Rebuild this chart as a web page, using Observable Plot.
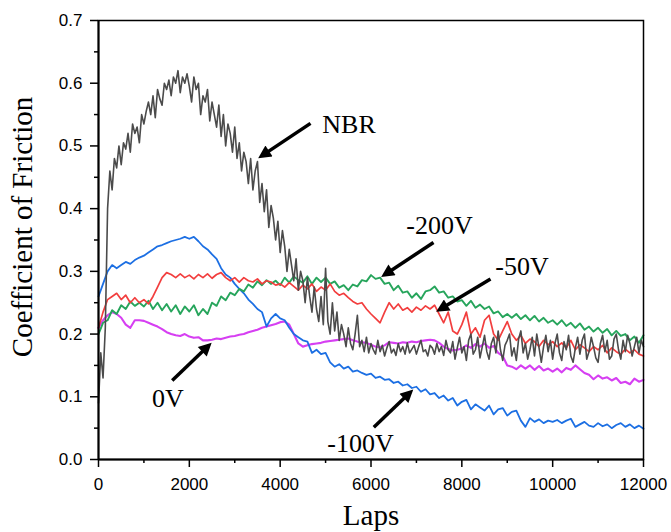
<!DOCTYPE html>
<html>
<head>
<meta charset="utf-8">
<script src="https://cdn.jsdelivr.net/npm/d3@7"></script>
<script src="https://cdn.jsdelivr.net/npm/@observablehq/plot@0.6"></script>
<style>
  html, body { margin: 0; padding: 0; background: #ffffff; }
  #chart { width: 671px; height: 532px; }
</style>
</head>
<body>
<div id="chart"></div>
<script>
// ---------- axis ticks ----------
const xTicks = [0, 2000, 4000, 6000, 8000, 10000, 12000];
const xMinorTicks = [1000, 3000, 5000, 7000, 9000, 11000];
const yTicks = [0.0, 0.1, 0.2, 0.3, 0.4, 0.5, 0.6, 0.7];
const yMinorTicks = [0.05, 0.15, 0.25, 0.35, 0.45, 0.55, 0.65];

// ---------- series (coefficient of friction vs laps) ----------
const seriesNames = ["NBR", "-100V", "-50V", "-200V", "0V"];
const seriesColors = ["#4b4b4b", "#1c6fe3", "#f23e3e", "#27a55c", "#d63ff2"];

// NBR: one value every 50 laps (0 .. 12000), 10 values per row
const nbrStep = 50;
const nbrValues = [
  0.09, 0.17, 0.13, 0.21, 0.40, 0.46, 0.43, 0.48, 0.465, 0.50,       // 0
  0.47, 0.505, 0.495, 0.52, 0.49, 0.535, 0.52, 0.53, 0.505, 0.55,    // 500
  0.535, 0.555, 0.57, 0.55, 0.58, 0.545, 0.59, 0.575, 0.565, 0.60,   // 1000
  0.59, 0.605, 0.58, 0.61, 0.60, 0.62, 0.585, 0.61, 0.60, 0.615,     // 1500
  0.595, 0.57, 0.61, 0.59, 0.60, 0.55, 0.58, 0.57, 0.59, 0.54,       // 2000
  0.57, 0.55, 0.53, 0.565, 0.515, 0.55, 0.50, 0.535, 0.52, 0.49,     // 2500
  0.53, 0.48, 0.505, 0.46, 0.49, 0.475, 0.44, 0.48, 0.43, 0.46,      // 3000
  0.475, 0.41, 0.44, 0.395, 0.43, 0.37, 0.405, 0.385, 0.35, 0.38,    // 3500
  0.33, 0.365, 0.34, 0.30, 0.335, 0.31, 0.285, 0.32, 0.27, 0.30,     // 4000
  0.285, 0.25, 0.29, 0.26, 0.235, 0.275, 0.24, 0.22, 0.26, 0.215,    // 4500
  0.305, 0.22, 0.20, 0.25, 0.205, 0.235, 0.19, 0.215, 0.20, 0.18,    // 5000
  0.21, 0.185, 0.175, 0.20, 0.23, 0.18, 0.19, 0.172, 0.195, 0.17,    // 5500
  0.185, 0.175, 0.168, 0.19, 0.172, 0.182, 0.165, 0.178, 0.188, 0.17, // 6000
  0.176, 0.166, 0.185, 0.172, 0.18, 0.168, 0.186, 0.17, 0.176, 0.182, // 6500
  0.168, 0.18, 0.19, 0.172, 0.175, 0.165, 0.182, 0.178, 0.168, 0.185, // 7000
  0.172, 0.18, 0.166, 0.19, 0.175, 0.17, 0.188, 0.16, 0.178, 0.195,   // 7500
  0.17, 0.18, 0.158, 0.19, 0.20, 0.168, 0.175, 0.195, 0.162, 0.18,    // 8000
  0.198, 0.172, 0.16, 0.185, 0.195, 0.17, 0.205, 0.175, 0.158, 0.182, // 8500
  0.19, 0.20, 0.165, 0.178, 0.158, 0.192, 0.205, 0.17, 0.185, 0.16,   // 9000
  0.175, 0.195, 0.165, 0.20, 0.178, 0.155, 0.18, 0.198, 0.172, 0.19,  // 9500
  0.16, 0.185, 0.20, 0.17, 0.158, 0.188, 0.175, 0.198, 0.165, 0.155,  // 10000
  0.178, 0.195, 0.168, 0.19, 0.20, 0.16, 0.172, 0.195, 0.18, 0.162,   // 10500
  0.155, 0.185, 0.198, 0.172, 0.19, 0.16, 0.165, 0.192, 0.20, 0.175,  // 11000
  0.16, 0.19, 0.172, 0.198, 0.185, 0.165, 0.18, 0.195, 0.17, 0.19,    // 11500
  0.18                                                                // 12000
];

// the coated samples: one value every 100 laps (0 .. 12000), 10 values per row
const coatStep = 100;
const m100Values = [
  0.26, 0.28, 0.30, 0.31, 0.305, 0.31, 0.315, 0.312, 0.318, 0.322,   // 0
  0.325, 0.33, 0.335, 0.34, 0.342, 0.345, 0.348, 0.35, 0.352, 0.355, // 1000
  0.352, 0.355, 0.348, 0.34, 0.335, 0.327, 0.32, 0.305, 0.295, 0.29, // 2000
  0.28, 0.272, 0.265, 0.255, 0.248, 0.24, 0.235, 0.212, 0.225, 0.232, // 3000
  0.225, 0.222, 0.21, 0.20, 0.195, 0.19, 0.188, 0.17, 0.175, 0.168,  // 4000
  0.17, 0.155, 0.148, 0.152, 0.145, 0.148, 0.14, 0.142, 0.138, 0.135, // 5000
  0.137, 0.13, 0.132, 0.127, 0.128, 0.122, 0.124, 0.118, 0.12, 0.114, // 6000
  0.116, 0.108, 0.112, 0.104, 0.106, 0.098, 0.102, 0.094, 0.098, 0.086, // 7000
  0.092, 0.095, 0.08, 0.088, 0.083, 0.078, 0.086, 0.072, 0.08, 0.082, // 8000
  0.07, 0.076, 0.078, 0.062, 0.052, 0.066, 0.06, 0.064, 0.058, 0.062, // 9000
  0.06, 0.063, 0.058, 0.062, 0.065, 0.052, 0.056, 0.06, 0.054, 0.052, // 10000
  0.058, 0.053, 0.056, 0.05, 0.055, 0.058, 0.052, 0.056, 0.05, 0.054, // 11000
  0.049                                                               // 12000
];
const m50Values = [
  0.21, 0.235, 0.255, 0.26, 0.265, 0.255, 0.262, 0.25, 0.258, 0.25,   // 0
  0.255, 0.248, 0.26, 0.275, 0.29, 0.298, 0.295, 0.29, 0.296, 0.29,   // 1000
  0.294, 0.288, 0.295, 0.29, 0.296, 0.289, 0.295, 0.298, 0.29, 0.285, // 2000
  0.29, 0.283, 0.29, 0.285, 0.283, 0.288, 0.28, 0.285, 0.283, 0.278,  // 3000
  0.28, 0.275, 0.282, 0.276, 0.27, 0.278, 0.272, 0.28, 0.268, 0.275,  // 4000
  0.27, 0.28, 0.268, 0.262, 0.265, 0.258, 0.252, 0.248, 0.25, 0.24,   // 5000
  0.232, 0.225, 0.218, 0.235, 0.25, 0.24, 0.248, 0.238, 0.242, 0.235, // 6000
  0.243, 0.238, 0.245, 0.24, 0.246, 0.232, 0.218, 0.235, 0.205, 0.20, // 7000
  0.215, 0.235, 0.20, 0.21, 0.195, 0.222, 0.23, 0.20, 0.19, 0.205,    // 8000
  0.22, 0.20, 0.19, 0.198, 0.185, 0.192, 0.188, 0.18, 0.19, 0.183,    // 9000
  0.188, 0.18, 0.186, 0.178, 0.19, 0.175, 0.183, 0.178, 0.172, 0.18,  // 10000
  0.175, 0.182, 0.17, 0.178, 0.172, 0.168, 0.176, 0.17, 0.175, 0.168, // 11000
  0.165                                                               // 12000
];
const m200Values = [
  0.20, 0.218, 0.222, 0.238, 0.232, 0.246, 0.24, 0.252, 0.245, 0.25,  // 0
  0.244, 0.253, 0.24, 0.25, 0.238, 0.248, 0.236, 0.246, 0.232, 0.244, // 1000
  0.236, 0.246, 0.23, 0.24, 0.232, 0.25, 0.245, 0.26, 0.254, 0.266,   // 2000
  0.262, 0.272, 0.268, 0.279, 0.274, 0.284, 0.278, 0.286, 0.28, 0.285, // 3000
  0.278, 0.29, 0.282, 0.292, 0.286, 0.282, 0.292, 0.28, 0.29, 0.283,  // 4000
  0.29, 0.28, 0.284, 0.274, 0.278, 0.27, 0.279, 0.276, 0.286, 0.284,  // 5000
  0.294, 0.288, 0.29, 0.28, 0.282, 0.27, 0.277, 0.266, 0.268, 0.258,  // 6000
  0.265, 0.256, 0.268, 0.27, 0.276, 0.266, 0.268, 0.258, 0.26, 0.252, // 7000
  0.254, 0.245, 0.253, 0.242, 0.247, 0.24, 0.244, 0.233, 0.236, 0.227, // 8000
  0.232, 0.226, 0.232, 0.224, 0.23, 0.222, 0.229, 0.22, 0.226, 0.218, // 9000
  0.222, 0.215, 0.222, 0.213, 0.218, 0.21, 0.217, 0.207, 0.212, 0.204, // 10000
  0.21, 0.202, 0.208, 0.198, 0.205, 0.197, 0.20, 0.19, 0.196, 0.186,  // 11000
  0.198                                                               // 12000
];
const m0Values = [
  0.21, 0.222, 0.23, 0.235, 0.232, 0.226, 0.215, 0.21, 0.222, 0.222,  // 0
  0.221, 0.218, 0.215, 0.212, 0.208, 0.203, 0.20, 0.198, 0.197, 0.20, // 1000
  0.196, 0.194, 0.195, 0.19, 0.19, 0.191, 0.193, 0.192, 0.194, 0.196, // 2000
  0.197, 0.199, 0.20, 0.203, 0.205, 0.207, 0.21, 0.212, 0.214, 0.216, // 3000
  0.219, 0.22, 0.215, 0.20, 0.185, 0.18, 0.182, 0.184, 0.185, 0.186,  // 4000
  0.188, 0.189, 0.19, 0.191, 0.192, 0.193, 0.19, 0.188, 0.187, 0.186, // 5000
  0.183, 0.18, 0.179, 0.182, 0.187, 0.186, 0.185, 0.187, 0.186, 0.188, // 6000
  0.187, 0.189, 0.19, 0.191, 0.19, 0.186, 0.18, 0.176, 0.174, 0.175,  // 7000
  0.177, 0.182, 0.178, 0.184, 0.18, 0.185, 0.178, 0.181, 0.17, 0.165, // 8000
  0.15, 0.148, 0.144, 0.15, 0.145, 0.15, 0.143, 0.149, 0.142, 0.145,  // 9000
  0.14, 0.145, 0.139, 0.146, 0.143, 0.15, 0.144, 0.138, 0.135, 0.128, // 10000
  0.134, 0.129, 0.131, 0.126, 0.13, 0.122, 0.124, 0.12, 0.129, 0.124, // 11000
  0.127                                                               // 12000
];

// ---------- annotations (data units) ----------
const annLabels = ["NBR", "-200V", "-50V", "-100V", "0V"];
const annTextLap = [5516, 7508, 9325, 5769, 1530];
const annTextCof = [0.534, 0.373, 0.307, 0.0255, 0.097];
const arrowFromLap = [4668, 7376, 8631, 6062, 1623];
const arrowFromCof = [0.536, 0.346, 0.288, 0.0515, 0.126];
const arrowToLap = [3611, 6319, 7532, 6848, 2409];
const arrowToCof = [0.485, 0.2955, 0.240, 0.106, 0.1805];

// ---------- build tables ----------
function toRows(values, step, name) {
  return values.map((v, i) => ({lap: i * step, cof: v, series: name}));
}
const seriesData = {
  "NBR": toRows(nbrValues, nbrStep, "NBR"),
  "-100V": toRows(m100Values, coatStep, "-100V"),
  "-50V": toRows(m50Values, coatStep, "-50V"),
  "-200V": toRows(m200Values, coatStep, "-200V"),
  "0V": toRows(m0Values, coatStep, "0V")
};
const seriesWidths = {"NBR": 1.6, "-100V": 1.8, "-50V": 1.7, "-200V": 1.9, "0V": 2.1};
const drawOrder = ["0V", "-100V", "-200V", "-50V", "NBR"];
const annotations = annLabels.map((t, i) => ({
  text: t, tx: annTextLap[i], ty: annTextCof[i],
  x1: arrowFromLap[i], y1: arrowFromCof[i], x2: arrowToLap[i], y2: arrowToCof[i]
}));

function filledArrow(color) {
  const ns = "http://www.w3.org/2000/svg";
  const m = document.createElementNS(ns, "marker");
  m.setAttribute("viewBox", "0 -5 10 10");
  m.setAttribute("markerUnits", "userSpaceOnUse");
  m.setAttribute("markerWidth", "17");
  m.setAttribute("markerHeight", "13");
  m.setAttribute("refX", "6");
  m.setAttribute("refY", "0");
  m.setAttribute("orient", "auto");
  const p = document.createElementNS(ns, "path");
  p.setAttribute("d", "M0,-5L10,0L0,5Z");
  p.setAttribute("fill", color);
  p.setAttribute("stroke", "none");
  m.appendChild(p);
  m.node = () => m;
  return m;
}

const serif = "'Liberation Serif', 'Times New Roman', 'DejaVu Serif', serif";
const sans = "'Liberation Sans', Arial, Helvetica, sans-serif";

function build(marker) {
  const marks = [];
  drawOrder.forEach(name => {
    const idx = seriesNames.indexOf(name);
    marks.push(Plot.line(seriesData[name], {
      x: "lap", y: "cof",
      stroke: seriesColors[idx],
      strokeWidth: seriesWidths[name],
      strokeLinejoin: "round"
    }));
  });
  marks.push(
    Plot.frame({stroke: "black", strokeWidth: 1.5}),
    Plot.ruleX([0], {stroke: "black", strokeWidth: 2}),
    Plot.ruleY([0], {stroke: "black", strokeWidth: 2}),
    Plot.axisX(xTicks, {tickSize: 8, tickPadding: 10, tickFormat: d3.format("d"),
      fontSize: 17, fontFamily: sans, strokeWidth: 1.5, label: null}),
    Plot.axisX(xMinorTicks, {tickSize: 4, tickFormat: () => "", strokeWidth: 1.5, label: null}),
    Plot.axisY(yTicks, {tickSize: 8, tickPadding: 8, tickFormat: d => d.toFixed(1),
      fontSize: 17, fontFamily: sans, strokeWidth: 1.5, label: null}),
    Plot.axisY(yMinorTicks, {tickSize: 4, tickFormat: () => "", strokeWidth: 1.5, label: null}),
    Plot.text(["Laps"], {frameAnchor: "bottom", dy: 56, lineAnchor: "middle",
      fontSize: 29, fontFamily: serif, fill: "black"}),
    Plot.text(["Coefficient of Friction"], {frameAnchor: "left", dx: -76, dy: -13, rotate: -90,
      lineAnchor: "middle", textAnchor: "middle", fontSize: 29, fontFamily: serif, fill: "black"}),
    Plot.link(annotations, {x1: "x1", y1: "y1", x2: "x2", y2: "y2",
      stroke: "black", strokeWidth: 3.5, markerEnd: marker}),
    Plot.text(annotations, {x: "tx", y: "ty", text: "text", textAnchor: "middle",
      lineAnchor: "middle", fontSize: 26, fontFamily: serif, fill: "black"})
  );
  return Plot.plot({
    width: 671,
    height: 532,
    marginLeft: 98,
    marginRight: 28,
    marginTop: 20,
    marginBottom: 73,
    style: {fontFamily: sans, background: "white", color: "black", overflow: "visible"},
    x: {domain: [0, 12000]},
    y: {domain: [0, 0.7]},
    marks
  });
}

let chart;
try {
  chart = build(filledArrow);
} catch (e) {
  chart = build("arrow");
}
document.getElementById("chart").appendChild(chart);
</script>
</body>
</html>
